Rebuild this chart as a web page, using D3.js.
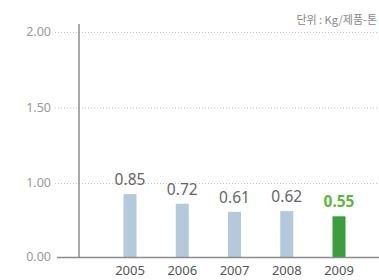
<!DOCTYPE html>
<html>
<head>
<meta charset="utf-8">
<script src="https://cdn.jsdelivr.net/npm/d3@7"></script>
<style>
  body { margin: 0; background: #fff; }
  svg { display: block; font-family: "Noto Sans", "Open Sans", sans-serif; }
</style>
</head>
<body>
<svg id="chart" width="379" height="280"></svg>
<script>
// Bar chart: kg per product-ton, 2005-2009
const YEARS = ["2005", "2006", "2007", "2008", "2009"];
const VALUES = [0.85, 0.72, 0.61, 0.62, 0.55];
const TICKS = [0, 1, 1.5, 2];
const UNIT = "단위 : Kg/제품-톤";

const svg = d3.select("#chart");
const width = +svg.attr("width");
const barW = 13;

// the original axis is uneven: 0-1 takes the same room as 1-1.5
const y = d3.scaleLinear().domain([0, 1, 2]).range([257, 183, 32]);
const x = d3.scalePoint().domain(YEARS).range([130, 339]);

// dotted grid lines
svg.append("g")
  .selectAll("line")
  .data(TICKS.filter((t) => t > 0))
  .join("line")
  .attr("x1", 55)
  .attr("x2", width)
  .attr("y1", (d) => y(d) + 0.5)
  .attr("y2", (d) => y(d) + 0.5)
  .attr("stroke", "#c4c4c4")
  .attr("stroke-width", 1)
  .attr("stroke-dasharray", "1,2");

// tick labels
svg.append("g")
  .selectAll("text")
  .data(TICKS)
  .join("text")
  .attr("x", 51)
  .attr("y", (d) => y(d))
  .attr("dy", "0.35em")
  .attr("text-anchor", "end")
  .attr("font-size", 12.5)
  .attr("fill", "#999")
  .text(d3.format(".2f"));

// bars
svg.append("g")
  .selectAll("rect")
  .data(VALUES)
  .join("rect")
  .attr("x", (d, i) => x(YEARS[i]) - barW / 2)
  .attr("width", barW)
  .attr("y", (d) => y(d))
  .attr("height", (d) => y(0) - y(d))
  .attr("fill", (d, i) => (i === VALUES.length - 1 ? "#3a9e3c" : "#b3c9dc"));

// value labels
svg.append("g")
  .selectAll("text")
  .data(VALUES)
  .join("text")
  .attr("x", (d, i) => x(YEARS[i]))
  .attr("y", (d) => y(d) - 9)
  .attr("text-anchor", "middle")
  .attr("font-size", 15.5)
  .attr("font-weight", (d, i) => (i === VALUES.length - 1 ? "bold" : "normal"))
  .attr("fill", (d, i) => (i === VALUES.length - 1 ? "#5cb83a" : "#666"))
  .text(d3.format(".2f"));

// axes lines
svg.append("line")
  .attr("x1", 79).attr("x2", 79)
  .attr("y1", 24).attr("y2", y(0))
  .attr("stroke", "#8c8c8c").attr("stroke-width", 1.5);
svg.append("line")
  .attr("x1", 57).attr("x2", width)
  .attr("y1", y(0) + 0.5).attr("y2", y(0) + 0.5)
  .attr("stroke", "#8c8c8c").attr("stroke-width", 1.5);

// year labels
svg.append("g")
  .selectAll("text")
  .data(YEARS)
  .join("text")
  .attr("x", (d) => x(d))
  .attr("y", 275)
  .attr("text-anchor", "middle")
  .attr("font-size", 13)
  .attr("fill", "#555")
  .text((d) => d);

// unit note
svg.append("text")
  .attr("x", width - 2)
  .attr("y", 24)
  .attr("text-anchor", "end")
  .attr("font-size", 11)
  .attr("font-family", "'Noto Sans CJK KR', sans-serif")
  .attr("fill", "#888")
  .text(UNIT);
</script>
</body>
</html>
